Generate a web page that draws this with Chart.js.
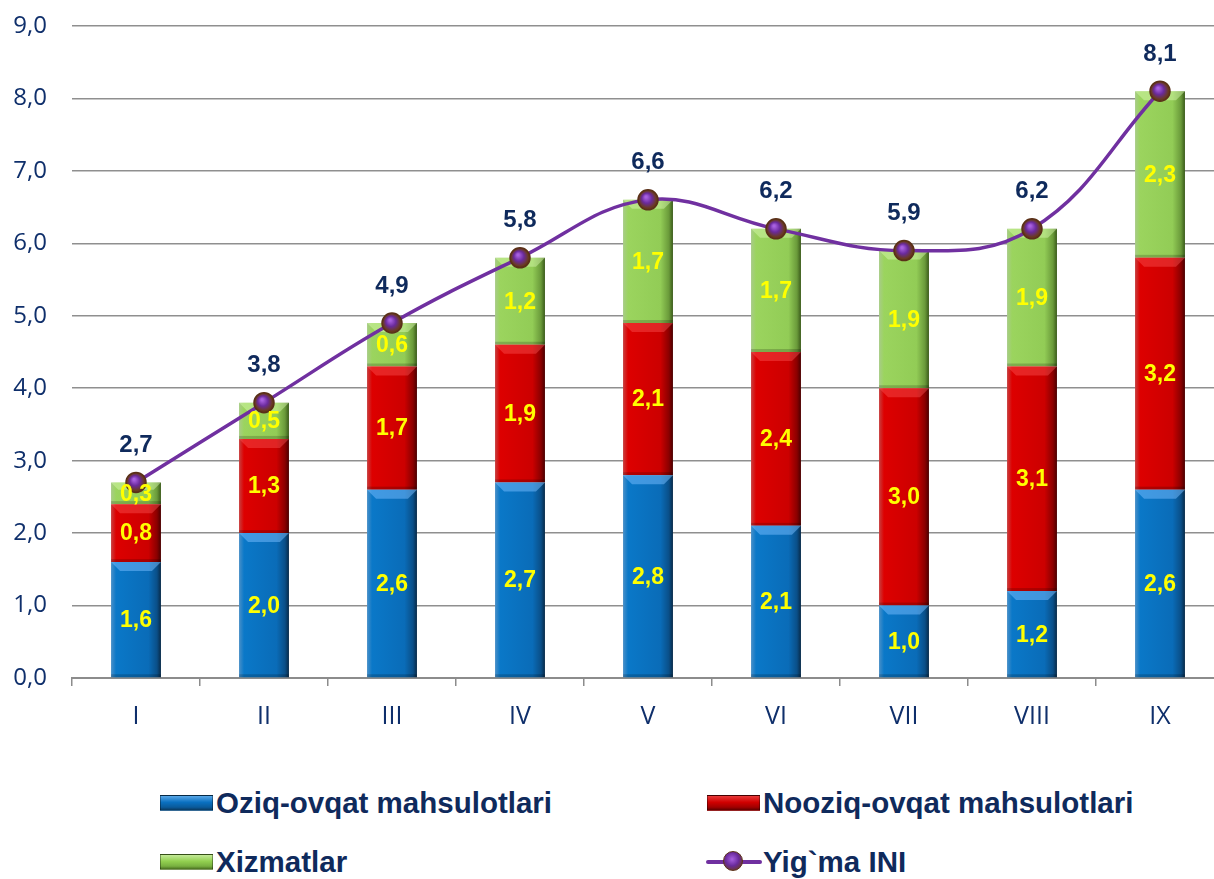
<!DOCTYPE html>
<html>
<head>
<meta charset="utf-8">
<script src="https://cdn.jsdelivr.net/npm/chart.js@4"></script>
<style>
  html, body { margin: 0; padding: 0; background: #fff; overflow: hidden; width: 1214px; height: 879px; }
  #wrap { position: relative; width: 1224px; height: 879px; }
  canvas { position: absolute; left: 0; top: 0; }
  .lg { position: absolute; display: flex; align-items: center; font-family: "Liberation Sans", Arial, sans-serif; font-weight: bold; font-size: 29.5px; color: #0F2A5C; white-space: nowrap; }
  .sw { width: 53px; height: 16px; margin-right: 3px; box-sizing: border-box; border: 1px solid rgba(0,0,0,0.35); }
  .ln { width: 56px; height: 22px; margin-right: 1px; position: relative; }
  .ln::before { content: ""; position: absolute; left: 0; right: 0; top: 9px; height: 4px; background: #7030A0; border-radius: 2px; }
  .ln::after { content: ""; position: absolute; left: 17px; top: 0px; width: 20px; height: 20px; box-sizing: border-box; border-radius: 50%; background: radial-gradient(circle at 45% 40%, #a860e0 0%, #6a2a9c 45%, #6a3a20 85%); border: 1px solid #5a3018; }
</style>
</head>
<body>
<div id="wrap">
  <canvas id="c" width="1224" height="750" style="width:1224px;height:750px"></canvas>
  <div id="legend"></div>
</div>
<script>
const categories = ['I', 'II', 'III', 'IV', 'V', 'VI', 'VII', 'VIII', 'IX'];
const food     = [1.6, 2.0, 2.6, 2.7, 2.8, 2.1, 1.0, 1.2, 2.6];
const nonFood  = [0.8, 1.3, 1.7, 1.9, 2.1, 2.4, 3.0, 3.1, 3.2];
const services = [0.3, 0.5, 0.6, 1.2, 1.7, 1.7, 1.9, 1.9, 2.3];
const total    = [2.7, 3.8, 4.9, 5.8, 6.6, 6.2, 5.9, 6.2, 8.1];
const seriesNames = ['Oziq-ovqat mahsulotlari', 'Nooziq-ovqat mahsulotlari', 'Xizmatlar', 'Yig`ma INI'];

const BAR_PCT = 0.39;
const fmt = v => v.toFixed(1).replace('.', ',');

function barGrad(stops) {
  return (ctx) => {
    const ch = ctx.chart;
    const xs = ch.scales && ch.scales.x;
    if (!xs || ctx.dataIndex === undefined) return stops[1][1];
    const c = xs.getPixelForValue(ctx.dataIndex);
    const hw = (xs.width / categories.length) * BAR_PCT / 2;
    if (!isFinite(c) || !isFinite(hw) || hw <= 0) return stops[1][1];
    const g = ch.ctx.createLinearGradient(c - hw, 0, c + hw, 0);
    stops.forEach(s => g.addColorStop(s[0], s[1]));
    return g;
  };
}

const blueStops  = [[0, '#4a90c8'], [0.1, '#0a78c8'], [0.75, '#0a6cb8'], [0.92, '#0a4f88'], [1, '#082a48']];
const redStops   = [[0, '#c84040'], [0.1, '#dd0000'], [0.75, '#cc0000'], [0.92, '#8a0000'], [1, '#4a0000']];
const greenStops = [[0, '#a8cc88'], [0.1, '#9bd45e'], [0.75, '#92cc56'], [0.92, '#6a9a3a'], [1, '#3a5a1a']];

function pointGrad(ctx) {
  const ch = ctx.chart;
  const xs = ch.scales && ch.scales.x, ys = ch.scales && ch.scales.y;
  if (!xs || !ys || ctx.dataIndex === undefined) return '#7030A0';
  const x = xs.getPixelForValue(ctx.dataIndex), y = ys.getPixelForValue(total[ctx.dataIndex]);
  if (!isFinite(x) || !isFinite(y)) return '#7030A0';
  const g = ch.ctx.createRadialGradient(x - 2, y - 3, 1, x, y, 10);
  g.addColorStop(0, '#a860e0');
  g.addColorStop(0.45, '#6a2a9c');
  g.addColorStop(0.85, '#6a3a20');
  g.addColorStop(1, '#5a3018');
  return g;
}

// subtle top bevel highlight on each bar segment
const bevelPlugin = {
  id: 'bevel',
  afterDatasetDraw(chart, args) {
    if (args.index > 2) return;
    const ctx = chart.ctx;
    const meta = args.meta;
    const tint = ['rgba(120,190,255,0.5)', 'rgba(255,90,90,0.4)', 'rgba(220,250,180,0.45)'][args.index];
    ctx.save();
    meta.data.forEach(el => {
      const w = el.width, l = el.x - w / 2, t = el.y, h = el.base - el.y;
      const d = Math.min(9, h / 3);
      ctx.fillStyle = tint;
      ctx.beginPath();
      ctx.moveTo(l, t); ctx.lineTo(l + w, t); ctx.lineTo(l + w - d, t + d); ctx.lineTo(l + d, t + d); ctx.closePath();
      ctx.fill();
      ctx.fillStyle = 'rgba(0,0,0,0.18)';
      ctx.fillRect(l, el.base - 3, w, 3);
    });
    ctx.restore();
  }
};

const labelsPlugin = {
  id: 'valueLabels',
  afterDatasetsDraw(chart) {
    const ctx = chart.ctx;
    ctx.save();
    ctx.textAlign = 'center';
    ctx.textBaseline = 'middle';
    ctx.font = 'bold 23px "Liberation Sans", Arial, sans-serif';
    ctx.fillStyle = '#FFFF00';
    [0, 1, 2].forEach(di => {
      const meta = chart.getDatasetMeta(di);
      const data = chart.data.datasets[di].data;
      meta.data.forEach((el, i) => {
        ctx.fillText(fmt(data[i]), el.x, (el.y + el.base) / 2 + 1);
      });
    });
    const lm = chart.getDatasetMeta(3);
    ctx.font = 'bold 24px "Liberation Sans", Arial, sans-serif';
    ctx.fillStyle = '#0F2A5C';
    lm.data.forEach((p, i) => {
      ctx.fillText(fmt(total[i]), p.x, p.y - 37);
    });
    ctx.restore();
  }
};

const chart = new Chart(document.getElementById('c'), {
  type: 'bar',
  data: {
    labels: categories,
    datasets: [
      { label: seriesNames[0], data: food, backgroundColor: barGrad(blueStops), borderWidth: 0, barPercentage: BAR_PCT, categoryPercentage: 1, order: 1 },
      { label: seriesNames[1], data: nonFood, backgroundColor: barGrad(redStops), borderWidth: 0, barPercentage: BAR_PCT, categoryPercentage: 1, order: 1 },
      { label: seriesNames[2], data: services, backgroundColor: barGrad(greenStops), borderWidth: 0, barPercentage: BAR_PCT, categoryPercentage: 1, order: 1 },
      { label: seriesNames[3], data: total, type: 'line', borderColor: '#7030A0', borderWidth: 3.5, tension: 0.4,
        pointRadius: 10, pointBackgroundColor: pointGrad, pointBorderColor: '#5a3018', pointBorderWidth: 1.5, order: 0 }
    ]
  },
  options: {
    responsive: false,
    animation: false,
    devicePixelRatio: 1,
    layout: { autoPadding: false, padding: { top: 26, left: 0, right: 0, bottom: 0 } },
    plugins: { legend: { display: false }, tooltip: { enabled: false } },
    scales: {
      x: {
        stacked: true,
        grid: { display: true, drawOnChartArea: false, drawTicks: true, tickLength: 8, color: '#8c8c8c', lineWidth: 1.5 },
        border: { display: true, color: '#8c8c8c', width: 2 },
        ticks: { color: '#0F2F6B', font: { family: '"Open Sans", "Noto Sans", sans-serif', size: 25 }, padding: 16 },
        afterFit: s => { s.height = 72; s.paddingLeft = 0; s.paddingRight = 0; }
      },
      y: {
        stacked: true,
        min: 0, max: 9,
        grid: { color: '#8f8f8f', lineWidth: 1.5, drawTicks: false },
        border: { display: false },
        ticks: { stepSize: 1, color: '#0F2F6B', font: { family: '"Open Sans", "Noto Sans", sans-serif', size: 24 }, padding: 25, callback: v => fmt(v) },
        afterFit: s => { s.width = 72; s.paddingTop = 0; s.paddingBottom = 0; }
      }
    }
  },
  plugins: [bevelPlugin, labelsPlugin]
});

// Legend (HTML, two columns)
const legendItems = [
  { name: seriesNames[0], kind: 'box', bg: 'linear-gradient(#5aa8e8, #0a70c0 45%, #0a5a9a 80%, #0a3a60)', x: 160, y: 803 },
  { name: seriesNames[1], kind: 'box', bg: 'linear-gradient(#e83a3a, #d00000 45%, #a00000 80%, #600000)', x: 707, y: 803 },
  { name: seriesNames[2], kind: 'box', bg: 'linear-gradient(#c4ea98, #92d050 45%, #78b040 80%, #4a7020)', x: 160, y: 862 },
  { name: seriesNames[3], kind: 'line', x: 706, y: 862 }
];
const lg = document.getElementById('legend');
legendItems.forEach(it => {
  const d = document.createElement('div');
  d.className = 'lg';
  d.style.left = it.x + 'px';
  d.style.top = (it.y - 18) + 'px';
  d.style.height = '36px';
  const m = document.createElement('span');
  if (it.kind === 'box') { m.className = 'sw'; m.style.background = it.bg; }
  else { m.className = 'ln'; }
  d.appendChild(m);
  const t = document.createElement('span');
  t.textContent = it.name;
  d.appendChild(t);
  lg.appendChild(d);
});
</script>
</body>
</html>
